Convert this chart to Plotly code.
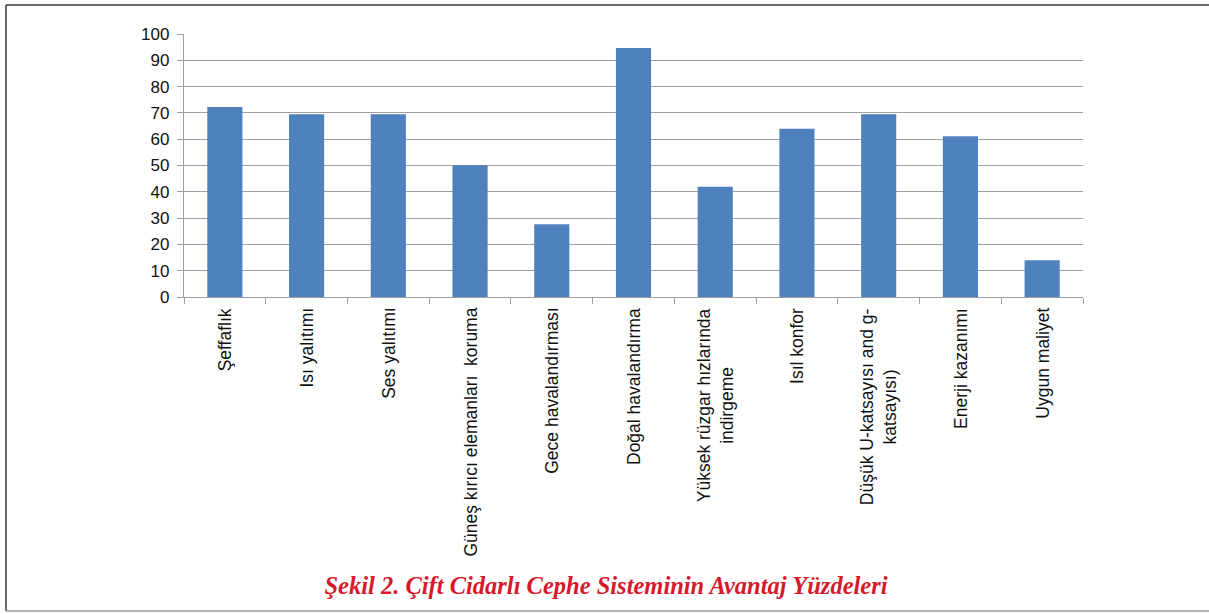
import plotly.graph_objects as go

categories = [
    "Şeffaflık",
    "Isı yalıtımı",
    "Ses yalıtımı",
    "Güneş kırıcı elemanları  koruma",
    "Gece havalandırması",
    "Doğal havalandırma",
    "Yüksek rüzgar hızlarında<br>indirgeme",
    "Isıl konfor",
    "Düşük U-katsayısı and g-<br>katsayısı)",
    "Enerji kazanımı",
    "Uygun maliyet",
]
values = [72.2, 69.5, 69.5, 50.1, 27.7, 94.7, 41.9, 64.0, 69.5, 61.1, 14.0]
y_ticks = [0, 10, 20, 30, 40, 50, 60, 70, 80, 90, 100]
title_text = "Şekil 2. Çift Cidarlı Cephe Sisteminin Avantaj Yüzdeleri"

W, H = 1209, 614
L, R, T, B = 184, 1083, 34, 297

fig = go.Figure(go.Bar(
    x=categories, y=values,
    marker=dict(color="#4f81bd", line=dict(width=0)),
    width=0.43,
))

def px_x(p):
    return (p - L) / (R - L)

def px_y(p):
    return (B - p) / (B - T)

frame = dict(color="#3a3a3a", width=1.5)
# top, left, bottom edges of the figure frame
fig.add_shape(type="line", xref="paper", yref="paper", x0=px_x(6), x1=px_x(W), y0=px_y(5), y1=px_y(5), line=frame, layer="below")
fig.add_shape(type="line", xref="paper", yref="paper", x0=px_x(6), x1=px_x(6), y0=px_y(5), y1=px_y(611), line=frame, layer="below")
fig.add_shape(type="line", xref="paper", yref="paper", x0=px_x(6), x1=px_x(W), y0=px_y(611), y1=px_y(611), line=dict(color="#9a9a9a", width=1.5), layer="below")

for c in categories:
    fig.add_annotation(x=c, y=0, xref="x", yref="y", text=c, showarrow=False,
                       textangle=-90, align="center", xanchor="center", yanchor="top",
                       yshift=-9, font=dict(size=17.5, color="#111"))

fig.update_layout(
    width=W, height=H,
    margin=dict(l=L, r=W - R, t=T, b=H - B),
    paper_bgcolor="white", plot_bgcolor="white",
    showlegend=False,
    font=dict(family="Liberation Sans, Arial, sans-serif", size=17, color="#111"),
    title=dict(text="<b><i>" + title_text + "</i></b>",
               font=dict(family="Liberation Serif, Times New Roman, serif", size=24.5, color="#d7192b"),
               x=606 / W, xanchor="center", xref="container",
               y=1 - 585 / H, yanchor="middle", yref="container"),
    xaxis=dict(
        type="category",
        showline=True, linecolor="#a0a0a0", linewidth=1.3,
        ticks="outside", tickson="boundaries", ticklen=6, tickcolor="#a0a0a0", tickwidth=1.3,
        showgrid=False, showticklabels=False,
    ),
    yaxis=dict(
        range=[0, 100], tickvals=y_ticks,
        showline=True, linecolor="#a0a0a0", linewidth=1.3,
        ticks="outside", ticklen=6, tickcolor="#a0a0a0", tickwidth=1.3,
        showgrid=True, gridcolor="#a0a0a0", gridwidth=1.3,
        zeroline=False, ticklabelstandoff=4,
        tickfont=dict(size=17, color="#111"),
    ),
)

fig.write_html("out.html", config={"displayModeBar": False},
               post_script="document.body.style.margin='0';")
